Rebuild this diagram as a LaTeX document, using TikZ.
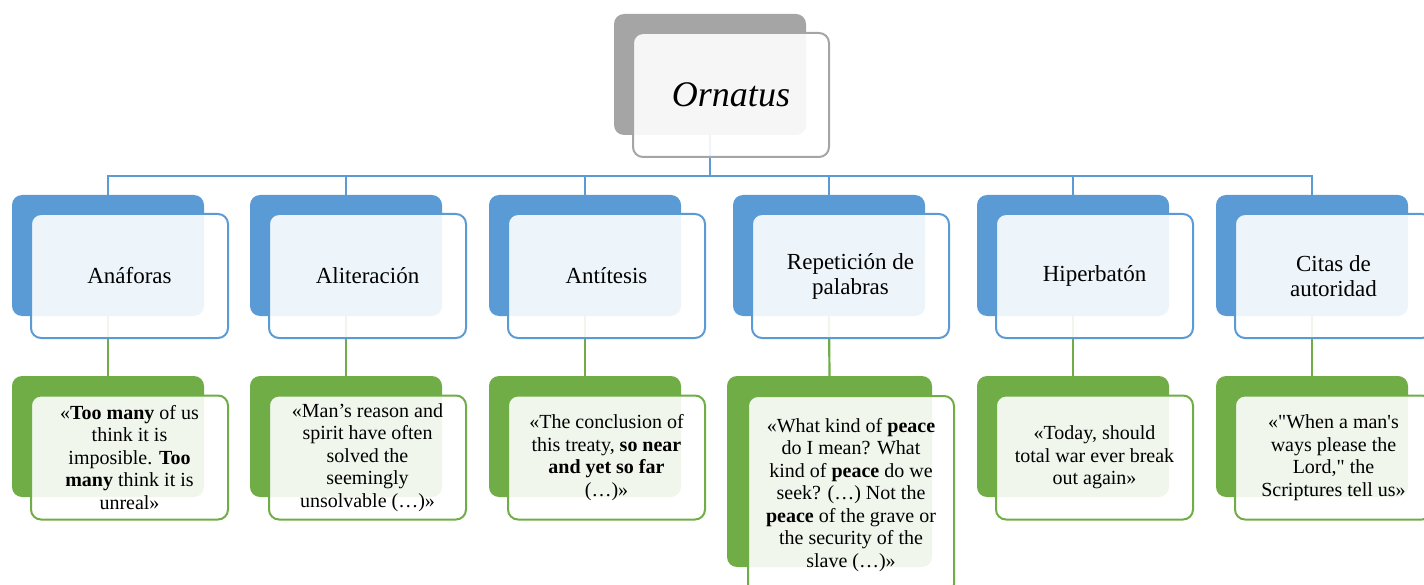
\documentclass[tikz,border=0pt]{standalone}
\usepackage{fontspec}
\setmainfont{Liberation Serif}
\usetikzlibrary{backgrounds}
\definecolor{accblue}{HTML}{5B9BD5}
\definecolor{accgreen}{HTML}{70AD47}
\definecolor{accgray}{HTML}{A5A5A5}
\tikzset{
  bk/.style={rounded corners=10pt,minimum width=192pt,minimum height=121pt,inner sep=0pt},
  fr/.style={rounded corners=10pt,line width=2pt,fill=white,fill opacity=0.9,text opacity=1,minimum width=197pt,minimum height=124pt,align=center,inner sep=2pt},
  topbk/.style={bk,fill=accgray},
  topfr/.style={fr,draw=accgray,minimum width=196pt,font=\fontsize{36}{40}\selectfont\itshape},
  catbk/.style={bk,fill=accblue},
  catfr/.style={fr,draw=accblue,font=\fontsize{23}{25}\selectfont},
  quobk/.style={bk,fill=accgreen},
  quofr/.style={fr,draw=accgreen,font=\fontsize{20}{22.5}\selectfont},
  bluelink/.style={draw=accblue,line width=2.2pt},
  greenlink/.style={draw=accgreen,line width=2.2pt},
}

\begin{document}
\begin{tikzpicture}[x=1pt,y=-1pt]
  \useasboundingbox (0,0) rectangle (1424,585);

  \node[topbk] (orn-bk) at (710,74.5) {};
  \node[topfr] (orn) at (731,95) {Ornatus};
  \coordinate (hub) at (710,176);

  \node[catbk] (anaforas-bk) at (108,255.5) {};
  \node[catfr] (anaforas) at (129.5,276) {Anáforas};
  \node[catbk] (aliteracion-bk) at (346,255.5) {};
  \node[catfr] (aliteracion) at (367.5,276) {Aliteración};
  \node[catbk] (antitesis-bk) at (585,255.5) {};
  \node[catfr] (antitesis) at (606.5,276) {Antítesis};
  \node[catbk] (repeticion-bk) at (829,255.5) {};
  \node[catfr] (repeticion) at (850.5,276) {Repetición de\\palabras};
  \node[catbk] (hiperbaton-bk) at (1073,255.5) {};
  \node[catfr] (hiperbaton) at (1094.5,276) {Hiperbatón};
  \node[catbk] (citas-bk) at (1312,255.5) {};
  \node[catfr] (citas) at (1333.5,276) {Citas de\\autoridad};

  \node[quobk] (anaforas-q-bk) at (108,436.5) {};
  \node[quofr] (anaforas-q) at (129.5,457.5) {«\textbf{Too many} of us\\think it is\\imposible. \textbf{Too}\\\textbf{many} think it is\\unreal»};
  \node[quobk] (aliteracion-q-bk) at (346,436.5) {};
  \node[quofr] (aliteracion-q) at (367.5,457.5) {«Man’s reason and\\spirit have often\\solved the\\seemingly\\unsolvable (…)»};
  \node[quobk] (antitesis-q-bk) at (585,436.5) {};
  \node[quofr] (antitesis-q) at (606.5,457.5) {«The conclusion of\\this treaty, \textbf{so near}\\\textbf{and yet so far}\\(…)»};
  \node[quobk,minimum width=205pt,minimum height=191pt] (repeticion-q-bk) at (829.5,471.5) {};
  \node[quofr,minimum width=206pt,minimum height=198pt] (repeticion-q) at (851,495) {«What kind of \textbf{peace}\\do I mean? What\\kind of \textbf{peace} do we\\seek? (…) Not the\\\textbf{peace} of the grave or\\the security of the\\slave (…)»};
  \node[quobk] (hiperbaton-q-bk) at (1073,436.5) {};
  \node[quofr] (hiperbaton-q) at (1094.5,457.5) {«Today, should\\total war ever break\\out again»};
  \node[quobk] (citas-q-bk) at (1312,436.5) {};
  \node[quofr] (citas-q) at (1333.5,457.5) {«\textquotedbl When a man\textquotesingle s\\ways please the\\Lord,\textquotedbl{} the\\Scriptures tell us»};

  \begin{scope}[on background layer]
    \draw[bluelink] (orn-bk.south) -- (hub);
    \foreach \n in {anaforas,aliteracion,antitesis,repeticion,hiperbaton,citas}{
      \draw[bluelink] (hub) -| (\n-bk.north);
      \draw[greenlink] (\n-bk.south) -- (\n-q-bk.north);
    }
  \end{scope}
\end{tikzpicture}
\end{document}
